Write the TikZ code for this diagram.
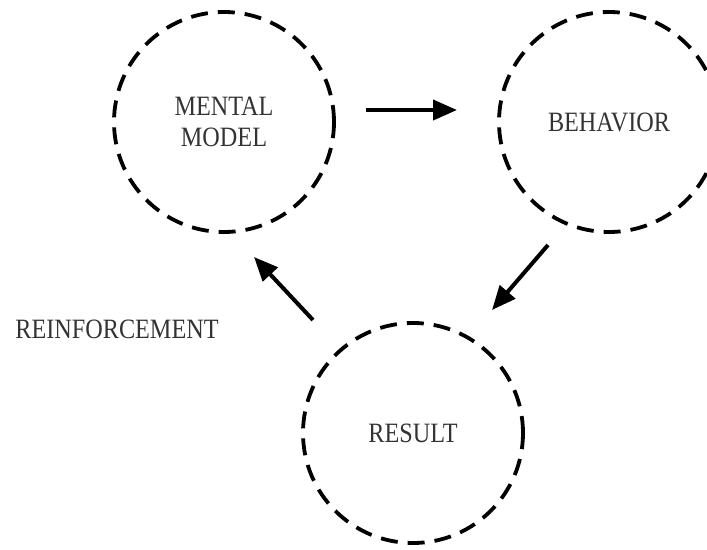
\documentclass[tikz,border=0pt]{standalone}
\usepackage{fontspec}
\newfontfamily\lblfont[FakeStretch=0.865]{Liberation Serif}
\usetikzlibrary{arrows.meta}
\definecolor{txt}{HTML}{333333}
\tikzset{
  bubble/.style={circle, draw=black, line width=3.8pt, minimum size=220pt, inner sep=0pt,
     dash pattern=on 17pt off 10pt, text=txt, align=center,
     font=\lblfont\fontsize{28}{31}\selectfont},
  flow/.style={line width=4pt, -{Triangle[length=24pt,width=20pt]}},
  lbl/.style={text=txt, font=\lblfont\fontsize{28}{31}\selectfont, inner sep=0pt}
}
\begin{document}
\begin{tikzpicture}[x=1pt,y=-1pt]
\useasboundingbox (0,0) rectangle (707,549);
\node[bubble] (mm) at (224,122) {MENTAL\\MODEL};
\node[bubble] (beh) at (609,122) {BEHAVIOR};
\node[bubble] (res) at (413,433) {RESULT};
\node[lbl] (reinf) at (117,329) {REINFORCEMENT};
\coordinate (a1s) at (366,110);
\coordinate (a1e) at (457,110);
\coordinate (a2s) at (548,245);
\coordinate (a2e) at (492,310);
\coordinate (a3s) at (313,320);
\coordinate (a3e) at (254,257);
\draw[flow] (a1s) -- (a1e);
\draw[flow] (a2s) -- (a2e);
\draw[flow] (a3s) -- (a3e);
\end{tikzpicture}
\end{document}
